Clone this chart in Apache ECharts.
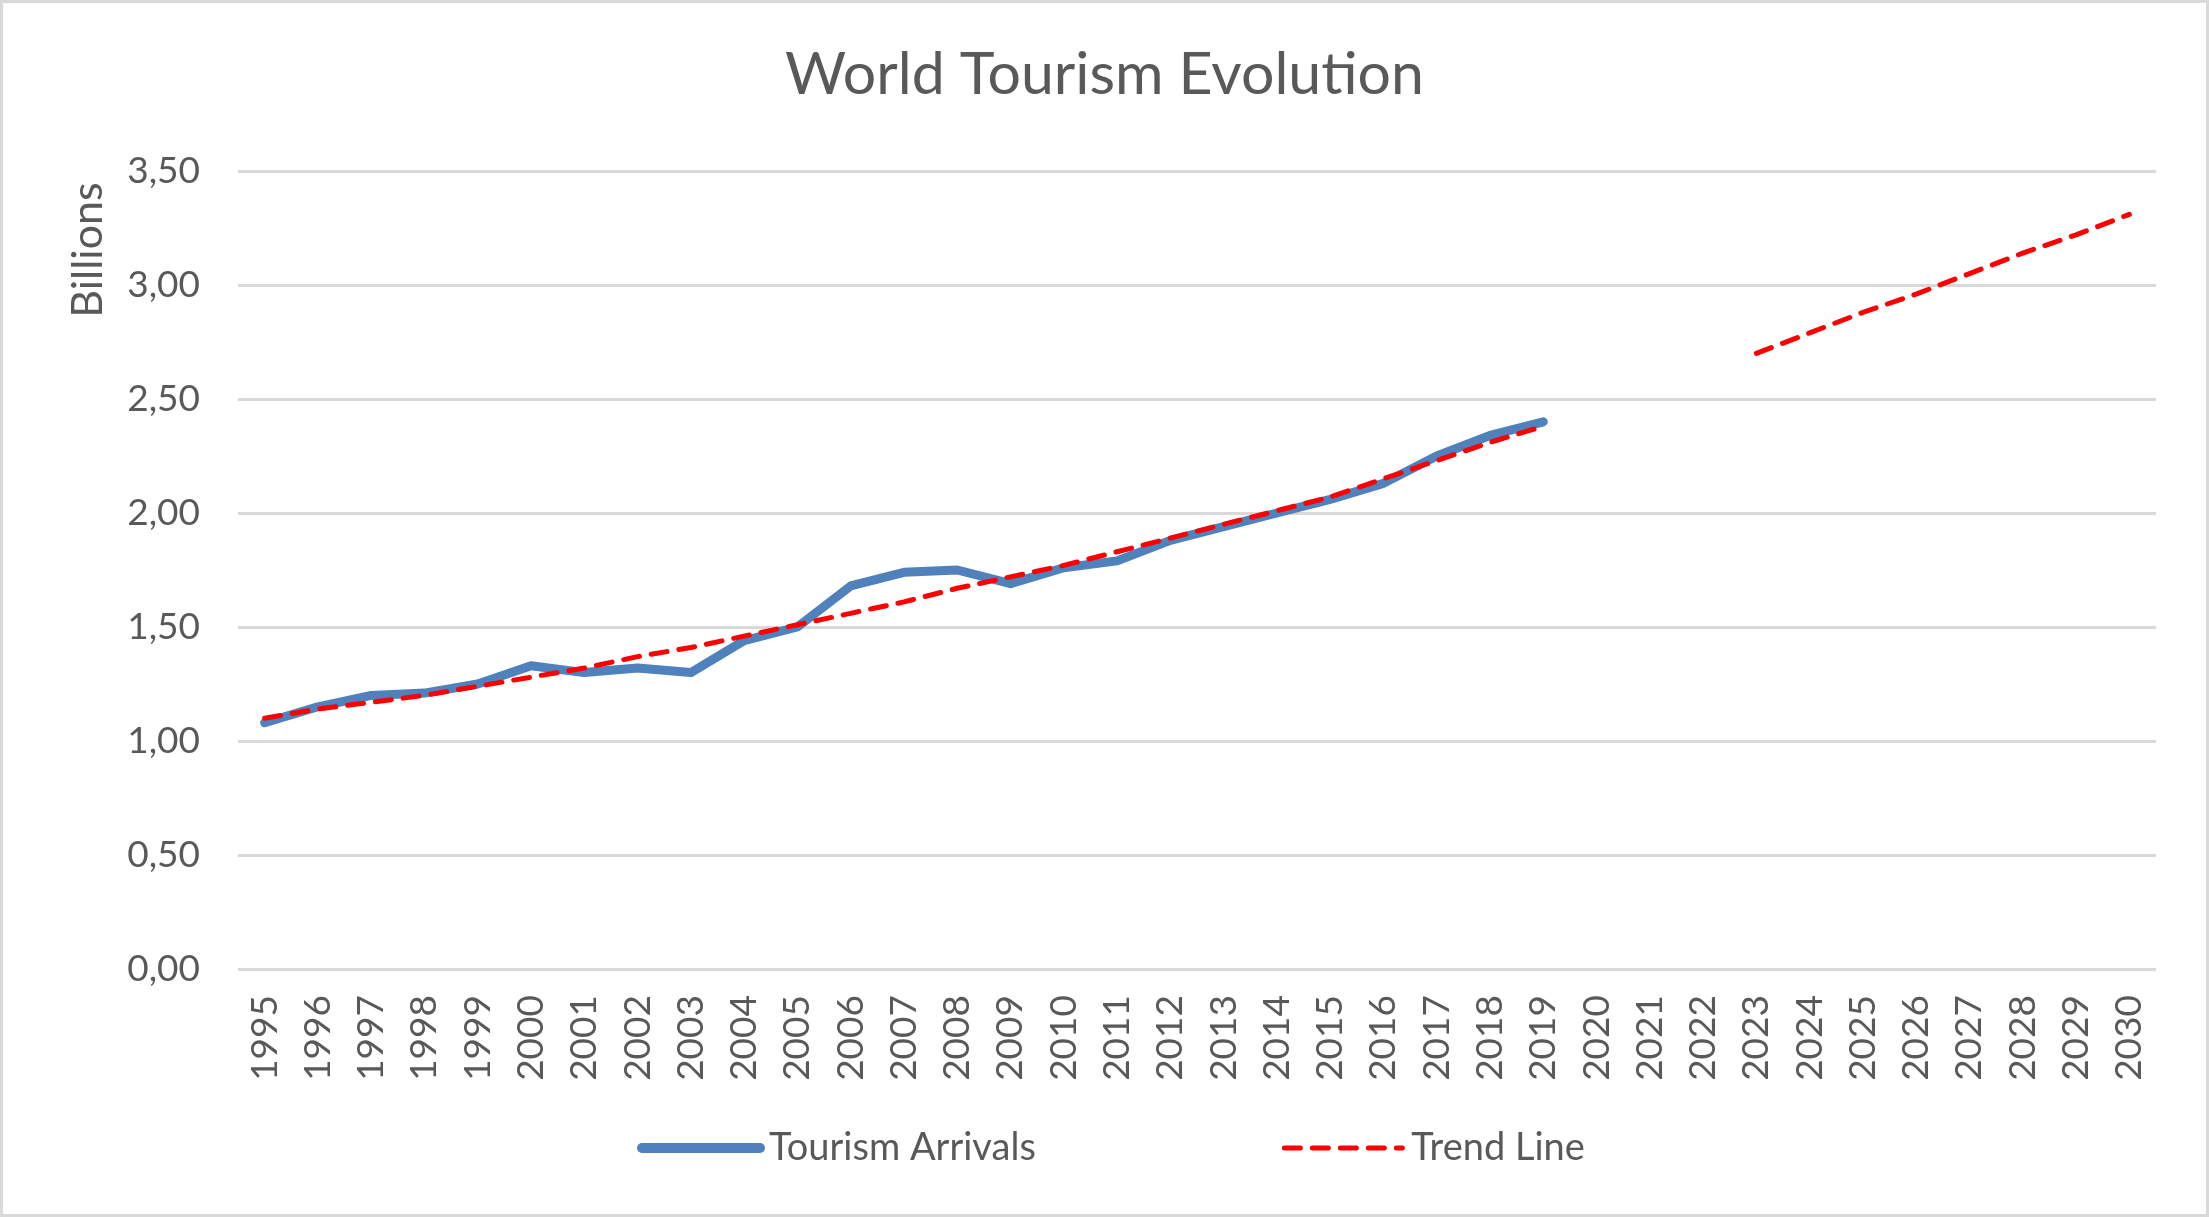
<!DOCTYPE html>
<html>
<head>
<meta charset="utf-8">
<title>World Tourism Evolution</title>
<script src="https://cdn.jsdelivr.net/npm/echarts@6/dist/echarts.min.js"></script>
<style>
  html, body { margin: 0; padding: 0; background: #ffffff; }
  #container { width: 2209px; height: 1217px; }
</style>
</head>
<body>
<div id="container"></div>
<script>
// years on the category axis
var years = ['1995', '1996', '1997', '1998', '1999', '2000', '2001', '2002', '2003', '2004',
             '2005', '2006', '2007', '2008', '2009', '2010', '2011', '2012', '2013', '2014',
             '2015', '2016', '2017', '2018', '2019', '2020', '2021', '2022', '2023', '2024',
             '2025', '2026', '2027', '2028', '2029', '2030'];

// tourism arrivals, billions (1995 - 2019)
var arrivals = [1.08, 1.15, 1.20, 1.21, 1.25, 1.33, 1.30, 1.32, 1.30, 1.44,
                1.50, 1.68, 1.74, 1.75, 1.69, 1.76, 1.79, 1.88, 1.94, 2.00,
                2.06, 2.13, 2.25, 2.34, 2.40];

// trend line, fitted part (1995 - 2019)
var trendFit = [1.10, 1.14, 1.17, 1.20, 1.24, 1.28, 1.32, 1.37, 1.41, 1.46,
                1.51, 1.56, 1.61, 1.67, 1.72, 1.77, 1.83, 1.89, 1.95, 2.01,
                2.07, 2.15, 2.23, 2.31, 2.38];
// trend line, projection (2023 - 2030)
var trendProjection = [2.70, 2.79, 2.88, 2.96, 3.05, 3.14, 3.22, 3.31];

var yTicks = { min: 0, max: 3.5, step: 0.5 };

var textColor = '#595959';
var fontName = 'Lato';

var arrivalsSeries = years.map(function (y, i) {
    return i < arrivals.length ? arrivals[i] : null;
});
var trendSeries = years.map(function (y, i) {
    if (i < trendFit.length) return trendFit[i];
    var j = i - (years.length - trendProjection.length);
    return j >= 0 ? trendProjection[j] : null;
});

var dom = document.getElementById('container');
var myChart = echarts.init(dom);

var option = {
    backgroundColor: '#FFFFFF',
    animation: false,
    textStyle: { fontFamily: fontName },
    title: {
        text: 'World Tourism Evolution',
        left: 'center',
        top: 40,
        textStyle: { color: textColor, fontSize: 59, fontWeight: 'normal', fontFamily: fontName }
    },
    legend: {
        left: 632,
        top: 1124,
        itemWidth: 118,
        itemHeight: 10,
        itemGap: 246,
        textStyle: { color: textColor, fontSize: 38, fontFamily: fontName, padding: [0, 0, 0, 4] },
        data: [
            {
                name: 'Tourism Arrivals',
                itemStyle: { opacity: 0 },
                lineStyle: { color: '#4f81bd', width: 10, cap: 'round' }
            },
            {
                name: 'Trend Line',
                itemStyle: { opacity: 0 },
                lineStyle: { color: '#ff0000', width: 5, type: [16, 12], cap: 'round' }
            }
        ]
    },
    grid: { left: 238, right: 53, top: 171, bottom: 248 },
    xAxis: {
        type: 'category',
        data: years,
        boundaryGap: true,
        axisLine: { show: false },
        axisTick: { show: false },
        axisLabel: {
            rotate: 90,
            interval: 0,
            margin: 26,
            color: textColor,
            fontSize: 37,
            fontFamily: fontName
        }
    },
    yAxis: {
        type: 'value',
        min: yTicks.min,
        max: yTicks.max,
        interval: yTicks.step,
        axisLine: { show: false },
        axisTick: { show: false },
        splitLine: { lineStyle: { color: '#d9d9d9', width: 3 } },
        axisLabel: {
            margin: 38,
            color: textColor,
            fontSize: 37,
            fontFamily: fontName,
            formatter: function (v) { return v.toFixed(2).replace('.', ','); }
        }
    },
    graphic: [
        {
            type: 'rect',
            shape: { x: 1.5, y: 1.5, width: 2206, height: 1214 },
            style: { fill: null, stroke: '#d9d9d9', lineWidth: 3 },
            silent: true
        },
        {
            type: 'text',
            x: 88,
            y: 250,
            rotation: Math.PI / 2,
            style: {
                text: 'Billions',
                fill: textColor,
                fontSize: 43,
                fontFamily: fontName,
                align: 'center',
                verticalAlign: 'middle'
            }
        }
    ],
    series: [
        {
            name: 'Tourism Arrivals',
            type: 'line',
            data: arrivalsSeries,
            symbol: 'none',
            connectNulls: false,
            color: '#4f81bd',
            lineStyle: { color: '#4f81bd', width: 9, cap: 'round', join: 'round' },
            z: 2
        },
        {
            name: 'Trend Line',
            type: 'line',
            data: trendSeries,
            symbol: 'none',
            connectNulls: false,
            color: '#ff0000',
            lineStyle: { color: '#ff0000', width: 5, type: [16, 12], cap: 'round' },
            z: 3
        }
    ]
};

myChart.setOption(option);
window.onresize = function () {
    myChart.resize();
};
</script>
</body>
</html>
